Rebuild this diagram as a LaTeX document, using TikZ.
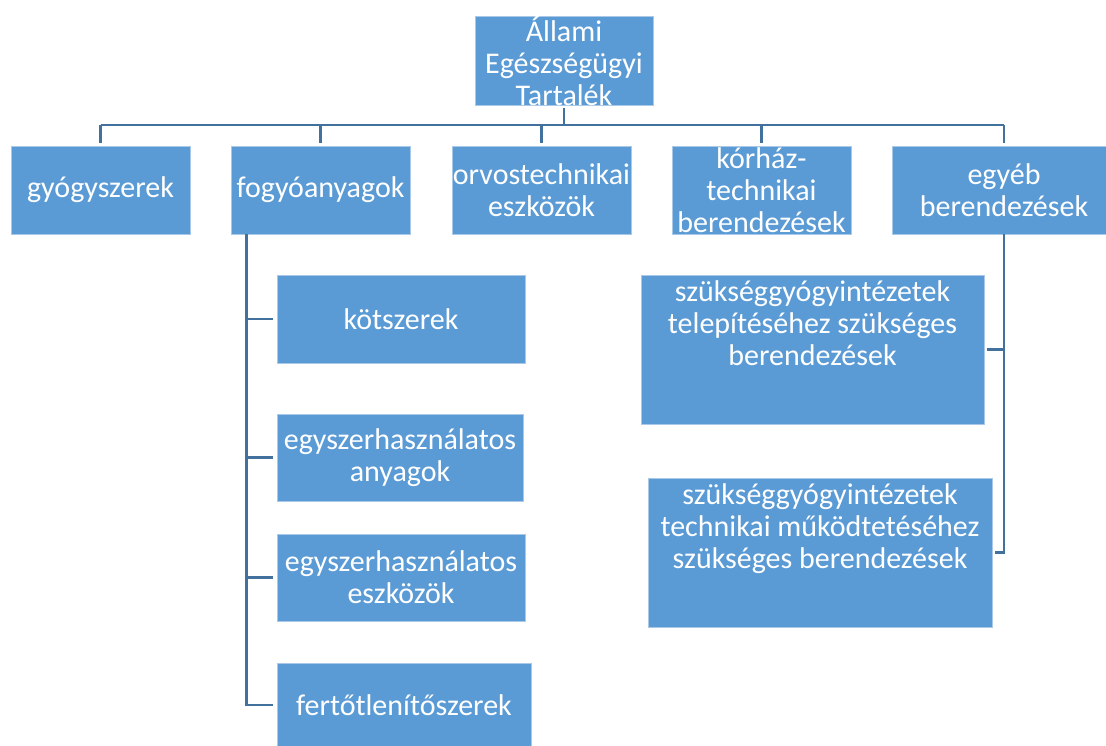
\documentclass[tikz,border=0pt]{standalone}
\usepackage{fontspec}
\setmainfont{Carlito}
\usetikzlibrary{positioning}
\definecolor{boxblue}{RGB}{91,155,213}
\definecolor{lineblue}{RGB}{65,113,156}
\definecolor{rimblue}{RGB}{170,200,232}

\begin{document}
\begin{tikzpicture}[x=1pt,y=-1pt,% one unit is one pixel of the page, y runs down
			every node/.style={
				align=center,  		% so that "\\" breaks the line
				inner sep=0pt,
				text=white,
				font=\fontsize{30}{32}\selectfont
			},
			box/.style={rectangle,fill=boxblue,draw=rimblue,line width=0.8pt,
				minimum width=179pt,minimum height=88pt},
			conn/.style={draw=lineblue,line width=2.8pt}
		]
		\useasboundingbox (0,0) rectangle (1106,745);
		\clip (0,0) rectangle (1106,745);
		% top level
		\node[box,minimum width=178pt](R1) at (564,61){Állami\\Egészségügyi\\Tartalék};
		\node[box](R2) at (100.5,190){gyógyszerek};
		\node[box](R3) at (320.5,190){fogyóanyagok};
		\node[box](R4) at (541.5,190){orvostechnikai\\eszközök};
		\node[box](R5) at (761.5,190){kórház-\\technikai\\berendezések};
		\node[box,minimum width=224pt](R6) at (1004,190){egyéb\\berendezések};
		% below fogyoanyagok
		\node[box,minimum width=248pt](R7) at (401,319){kötszerek};
		\node[box,minimum width=246pt,minimum height=87pt](R8) at (400,457.5){egyszerhasználatos\\anyagok};
		\node[box,minimum width=248pt,minimum height=87pt](R9) at (401,577.5){egyszerhasználatos\\eszközök};
		\node[box,minimum width=254pt,minimum height=84pt](R10) at (404,705){fertőtlenítőszerek};
		% below egyeb berendezesek
		\node[box,minimum width=343pt,minimum height=149pt,text depth=53pt](R11) at (812.5,349.5){szükséggyógyintézetek\\telepítéséhez szükséges\\berendezések};
		\node[box,minimum width=344pt,minimum height=149pt,text depth=53pt](R12) at (820,552.5){szükséggyógyintézetek\\technikai működtetéséhez\\szükséges berendezések};

		\coordinate (bar) at (0,125);
		\coordinate (S1) at ([xshift=16pt]R3.south west);
		\draw[conn,shorten <=2pt] (R1.south) -- (R1.south |- bar);
		\draw[conn] (R2.north |- bar) -- (R6.north |- bar);
		\foreach \n in {R2,R3,R4,R5,R6}
			\draw[conn,shorten >=3pt] (\n.north |- bar) -- (\n.north);
		\draw[conn,shorten >=4pt] (S1) |- (R10.west);
		\foreach \n in {R7,R8,R9}
			\draw[conn,shorten >=4pt] (S1 |- \n.west) -- (\n.west);
		\draw[conn,shorten >=3pt] (R6.south) |- (R12.east);
		\draw[conn,shorten >=3pt] (R6.south |- R11.east) -- (R11.east);
	\end{tikzpicture}
\end{document}
